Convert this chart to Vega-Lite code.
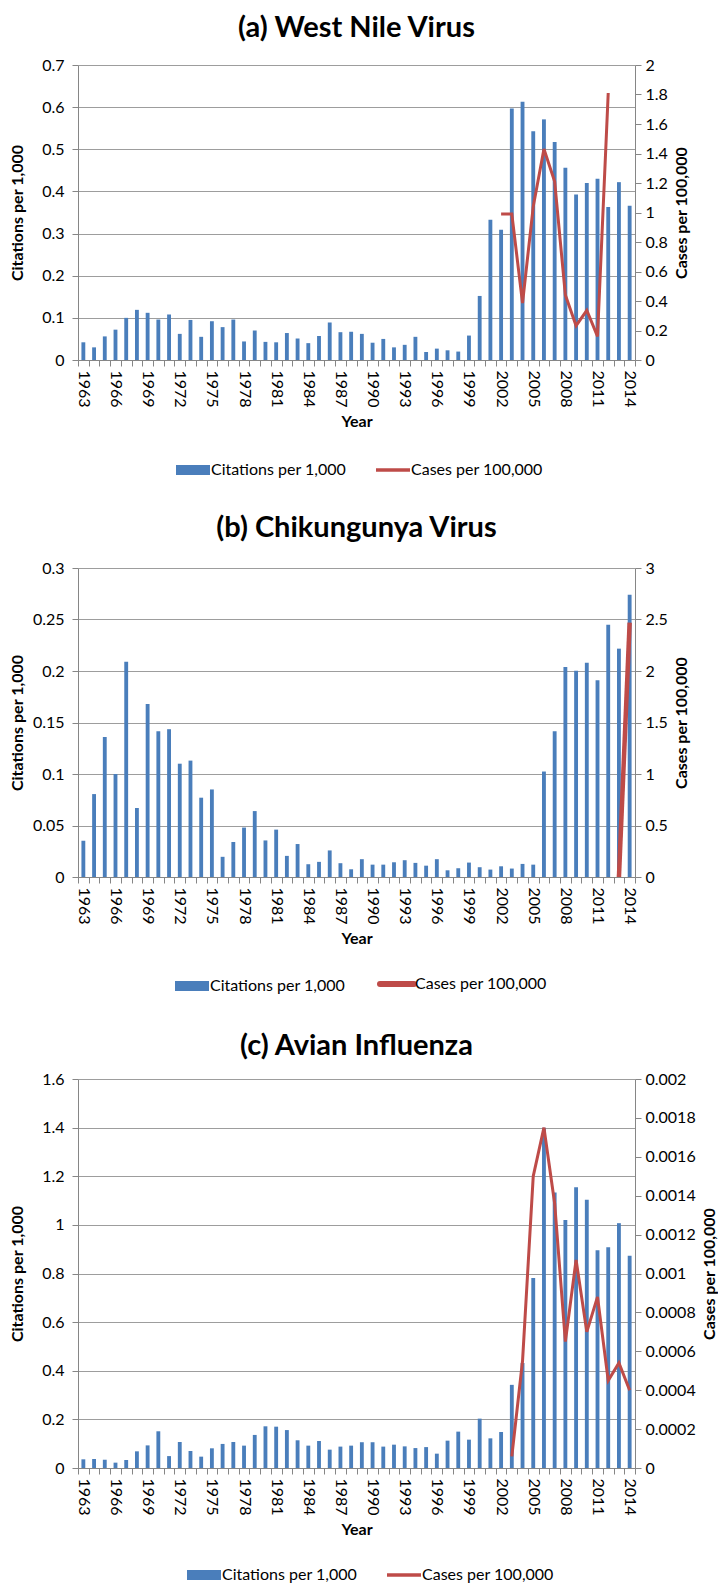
{
  "$schema": "https://vega.github.io/schema/vega-lite/v6.json",
  "padding": {"left": 9, "top": 14, "right": 0, "bottom": 0},
  "background": "white",
  "config": {
    "font": "Lato",
    "view": {"stroke": null},
    "axis": {"labelFont": "Lato", "labelFontSize": 16, "labelColor": "#000", "titleFont": "Lato", "titleFontSize": 16, "titleFontWeight": "bold", "titleColor": "#000", "domainColor": "#868686", "tickColor": "#868686", "gridColor": "#9d9d9d", "tickSize": 6},
    "title": {"font": "Lato", "fontSize": 29, "fontWeight": "bold", "color": "#000"},
    "legend": {"labelFont": "Lato", "labelFontSize": 16, "labelColor": "#000"}
  },
  "spacing": 36,
  "resolve": {"scale": {"color": "independent", "x": "independent"}, "legend": {"color": "independent"}},
  "vconcat": [
    {
      "title": {"text": "(a) West Nile Virus", "offset": 14},
      "width": 557, "height": 295,
      "data": {"values": [
        {"year":1963,"citations":0.042,"cases":null},{"year":1964,"citations":0.030,"cases":null},{"year":1965,"citations":0.056,"cases":null},{"year":1966,"citations":0.072,"cases":null},{"year":1967,"citations":0.100,"cases":null},{"year":1968,"citations":0.119,"cases":null},{"year":1969,"citations":0.112,"cases":null},{"year":1970,"citations":0.096,"cases":null},{"year":1971,"citations":0.108,"cases":null},{"year":1972,"citations":0.062,"cases":null},{"year":1973,"citations":0.095,"cases":null},{"year":1974,"citations":0.055,"cases":null},{"year":1975,"citations":0.092,"cases":null},{"year":1976,"citations":0.078,"cases":null},{"year":1977,"citations":0.096,"cases":null},{"year":1978,"citations":0.044,"cases":null},{"year":1979,"citations":0.070,"cases":null},{"year":1980,"citations":0.043,"cases":null},{"year":1981,"citations":0.042,"cases":null},{"year":1982,"citations":0.064,"cases":null},{"year":1983,"citations":0.051,"cases":null},{"year":1984,"citations":0.040,"cases":null},{"year":1985,"citations":0.057,"cases":null},{"year":1986,"citations":0.089,"cases":null},{"year":1987,"citations":0.066,"cases":null},{"year":1988,"citations":0.067,"cases":null},{"year":1989,"citations":0.062,"cases":null},{"year":1990,"citations":0.041,"cases":null},{"year":1991,"citations":0.050,"cases":null},{"year":1992,"citations":0.030,"cases":null},{"year":1993,"citations":0.036,"cases":null},{"year":1994,"citations":0.055,"cases":null},{"year":1995,"citations":0.019,"cases":null},{"year":1996,"citations":0.027,"cases":null},{"year":1997,"citations":0.023,"cases":null},{"year":1998,"citations":0.020,"cases":null},{"year":1999,"citations":0.058,"cases":null},{"year":2000,"citations":0.152,"cases":null},{"year":2001,"citations":0.333,"cases":null},{"year":2002,"citations":0.309,"cases":0.99},{"year":2003,"citations":0.597,"cases":0.99},{"year":2004,"citations":0.613,"cases":0.386},{"year":2005,"citations":0.543,"cases":1.04},{"year":2006,"citations":0.571,"cases":1.43},{"year":2007,"citations":0.517,"cases":1.21},{"year":2008,"citations":0.456,"cases":0.44},{"year":2009,"citations":0.393,"cases":0.233},{"year":2010,"citations":0.420,"cases":0.337},{"year":2011,"citations":0.430,"cases":0.16},{"year":2012,"citations":0.363,"cases":1.81},{"year":2013,"citations":0.422,"cases":null},{"year":2014,"citations":0.366,"cases":null}
      ]},
      "encoding": {"x": {"field": "year", "type": "ordinal", "scale": {"paddingInner": 0, "paddingOuter": 0}, "axis": {"title": "Year", "labelExpr": "(datum.value - 1963) % 3 == 0 ? datum.label : ''", "labelAngle": 90, "tickBand": "extent", "labelOverlap": false, "labelPadding": 4, "titlePadding": 6, "grid": false}}},
      "layer": [
        {"mark": {"type": "bar", "width": {"band": 0.36}},
         "encoding": {
           "y": {"field": "citations", "type": "quantitative", "scale": {"domain": [0, 0.7], "nice": false}, "axis": {"title": "Citations per 1,000", "values": [0,0.1,0.2,0.3,0.4,0.5,0.6,0.7], "format": "~g", "grid": true, "minExtent": 49, "maxExtent": 49, "labelPadding": 8, "titlePadding": 4}},
           "color": {"datum": "Citations per 1,000", "scale": {"domain": ["Citations per 1,000", "Cases per 100,000"], "range": ["#4a7ebb", "#be4b48"]},
             "legend": {"orient": "none", "legendX": 107, "legendY": 397, "direction": "horizontal", "title": null, "symbolSize": 1156, "labelOffset": 10, "columnPadding": 22,
               "encode": {"symbols": {"update": {
                 "shape": {"signal": "datum.value === 'Cases per 100,000' ? 'stroke' : 'M-1,-0.3H1V0.3H-1Z'"},
                 "fill": {"signal": "datum.value === 'Cases per 100,000' ? 'transparent' : '#4a7ebb'"},
                 "stroke": {"signal": "datum.value === 'Cases per 100,000' ? '#be4b48' : 'transparent'"},
                 "strokeWidth": {"signal": "datum.value === 'Cases per 100,000' ? 3.5 : 0"},
                 "opacity": {"value": 1}
               }}}}}
         }},
        {"mark": {"type": "line", "strokeWidth": 3},
         "encoding": {
           "y": {"field": "cases", "type": "quantitative", "scale": {"domain": [0, 2], "nice": false}, "axis": {"title": "Cases per 100,000", "orient": "right", "values": [0,0.2,0.4,0.6,0.8,1,1.2,1.4,1.6,1.8,2], "format": "~g", "grid": false, "titleAngle": 270, "titleBaseline": "top", "labelPadding": 4, "titlePadding": 6}},
           "color": {"datum": "Cases per 100,000"}
         }}
      ],
      "resolve": {"scale": {"y": "independent"}}
    },
    {
      "title": {"text": "(b) Chikungunya Virus", "offset": 17},
      "width": 557, "height": 309,
      "data": {"values": [
        {"year":1963,"citations":0.0352,"cases":null},{"year":1964,"citations":0.0805,"cases":null},{"year":1965,"citations":0.136,"cases":null},{"year":1966,"citations":0.100,"cases":null},{"year":1967,"citations":0.209,"cases":null},{"year":1968,"citations":0.067,"cases":null},{"year":1969,"citations":0.168,"cases":null},{"year":1970,"citations":0.1415,"cases":null},{"year":1971,"citations":0.1435,"cases":null},{"year":1972,"citations":0.110,"cases":null},{"year":1973,"citations":0.113,"cases":null},{"year":1974,"citations":0.077,"cases":null},{"year":1975,"citations":0.085,"cases":null},{"year":1976,"citations":0.0196,"cases":null},{"year":1977,"citations":0.034,"cases":null},{"year":1978,"citations":0.048,"cases":null},{"year":1979,"citations":0.064,"cases":null},{"year":1980,"citations":0.0355,"cases":null},{"year":1981,"citations":0.046,"cases":null},{"year":1982,"citations":0.0205,"cases":null},{"year":1983,"citations":0.032,"cases":null},{"year":1984,"citations":0.0124,"cases":null},{"year":1985,"citations":0.0147,"cases":null},{"year":1986,"citations":0.0258,"cases":null},{"year":1987,"citations":0.0134,"cases":null},{"year":1988,"citations":0.0075,"cases":null},{"year":1989,"citations":0.0173,"cases":null},{"year":1990,"citations":0.012,"cases":null},{"year":1991,"citations":0.012,"cases":null},{"year":1992,"citations":0.0143,"cases":null},{"year":1993,"citations":0.0163,"cases":null},{"year":1994,"citations":0.0137,"cases":null},{"year":1995,"citations":0.011,"cases":null},{"year":1996,"citations":0.0173,"cases":null},{"year":1997,"citations":0.0065,"cases":null},{"year":1998,"citations":0.0085,"cases":null},{"year":1999,"citations":0.014,"cases":null},{"year":2000,"citations":0.0095,"cases":null},{"year":2001,"citations":0.0072,"cases":null},{"year":2002,"citations":0.0104,"cases":null},{"year":2003,"citations":0.0082,"cases":null},{"year":2004,"citations":0.0127,"cases":null},{"year":2005,"citations":0.012,"cases":null},{"year":2006,"citations":0.1024,"cases":null},{"year":2007,"citations":0.1415,"cases":null},{"year":2008,"citations":0.2038,"cases":null},{"year":2009,"citations":0.2002,"cases":null},{"year":2010,"citations":0.208,"cases":null},{"year":2011,"citations":0.191,"cases":null},{"year":2012,"citations":0.245,"cases":null},{"year":2013,"citations":0.2217,"cases":0},{"year":2014,"citations":0.274,"cases":2.47}
      ]},
      "encoding": {"x": {"field": "year", "type": "ordinal", "scale": {"paddingInner": 0, "paddingOuter": 0}, "axis": {"title": "Year", "labelExpr": "(datum.value - 1963) % 3 == 0 ? datum.label : ''", "labelAngle": 90, "tickBand": "extent", "labelOverlap": false, "labelPadding": 4, "titlePadding": 6, "grid": false}}},
      "layer": [
        {"mark": {"type": "bar", "width": {"band": 0.36}},
         "encoding": {
           "y": {"field": "citations", "type": "quantitative", "scale": {"domain": [0, 0.3], "nice": false}, "axis": {"title": "Citations per 1,000", "values": [0,0.05,0.1,0.15,0.2,0.25,0.3], "format": "~g", "grid": true, "minExtent": 49, "maxExtent": 49, "labelPadding": 8, "titlePadding": 4}},
           "color": {"datum": "Citations per 1,000", "scale": {"domain": ["Citations per 1,000", "Cases per 100,000"], "range": ["#4a7ebb", "#be4b48"]},
             "legend": {"orient": "none", "legendX": 106, "legendY": 408, "direction": "horizontal", "title": null, "symbolSize": 1156, "labelOffset": 10, "columnPadding": 22,
               "encode": {"symbols": {"update": {
                 "shape": {"signal": "datum.value === 'Cases per 100,000' ? 'stroke' : 'M-1,-0.3H1V0.3H-1Z'"},
                 "fill": {"signal": "datum.value === 'Cases per 100,000' ? 'transparent' : '#4a7ebb'"},
                 "stroke": {"signal": "datum.value === 'Cases per 100,000' ? '#be4b48' : 'transparent'"},
                 "strokeWidth": {"signal": "datum.value === 'Cases per 100,000' ? 6 : 0"},
                 "strokeCap": {"value": "round"},
                 "opacity": {"value": 1}
               }}}}}
         }},
        {"mark": {"type": "line", "strokeWidth": 4.5},
         "encoding": {
           "y": {"field": "cases", "type": "quantitative", "scale": {"domain": [0, 3], "nice": false}, "axis": {"title": "Cases per 100,000", "orient": "right", "values": [0,0.5,1,1.5,2,2.5,3], "format": "~g", "grid": false, "titleAngle": 270, "titleBaseline": "top", "labelPadding": 4, "titlePadding": 6}},
           "color": {"datum": "Cases per 100,000"}
         }}
      ],
      "resolve": {"scale": {"y": "independent"}}
    },
    {
      "title": {"text": "(c) Avian Influenza", "offset": 10},
      "width": 557, "height": 389,
      "data": {"values": [
        {"year":1963,"citations":0.0357,"cases":null},{"year":1964,"citations":0.037,"cases":null},{"year":1965,"citations":0.034,"cases":null},{"year":1966,"citations":0.022,"cases":null},{"year":1967,"citations":0.033,"cases":null},{"year":1968,"citations":0.0686,"cases":null},{"year":1969,"citations":0.093,"cases":null},{"year":1970,"citations":0.151,"cases":null},{"year":1971,"citations":0.049,"cases":null},{"year":1972,"citations":0.107,"cases":null},{"year":1973,"citations":0.070,"cases":null},{"year":1974,"citations":0.0467,"cases":null},{"year":1975,"citations":0.081,"cases":null},{"year":1976,"citations":0.099,"cases":null},{"year":1977,"citations":0.107,"cases":null},{"year":1978,"citations":0.092,"cases":null},{"year":1979,"citations":0.136,"cases":null},{"year":1980,"citations":0.1715,"cases":null},{"year":1981,"citations":0.170,"cases":null},{"year":1982,"citations":0.156,"cases":null},{"year":1983,"citations":0.114,"cases":null},{"year":1984,"citations":0.092,"cases":null},{"year":1985,"citations":0.111,"cases":null},{"year":1986,"citations":0.0755,"cases":null},{"year":1987,"citations":0.088,"cases":null},{"year":1988,"citations":0.092,"cases":null},{"year":1989,"citations":0.106,"cases":null},{"year":1990,"citations":0.106,"cases":null},{"year":1991,"citations":0.088,"cases":null},{"year":1992,"citations":0.096,"cases":null},{"year":1993,"citations":0.089,"cases":null},{"year":1994,"citations":0.082,"cases":null},{"year":1995,"citations":0.086,"cases":null},{"year":1996,"citations":0.059,"cases":null},{"year":1997,"citations":0.1125,"cases":null},{"year":1998,"citations":0.1496,"cases":null},{"year":1999,"citations":0.1166,"cases":null},{"year":2000,"citations":0.203,"cases":null},{"year":2001,"citations":0.122,"cases":null},{"year":2002,"citations":0.148,"cases":null},{"year":2003,"citations":0.342,"cases":0.00006},{"year":2004,"citations":0.432,"cases":0.00055},{"year":2005,"citations":0.782,"cases":0.0015},{"year":2006,"citations":1.40,"cases":0.00175},{"year":2007,"citations":1.133,"cases":0.00136},{"year":2008,"citations":1.020,"cases":0.00065},{"year":2009,"citations":1.155,"cases":0.00107},{"year":2010,"citations":1.103,"cases":0.0007},{"year":2011,"citations":0.896,"cases":0.00088},{"year":2012,"citations":0.908,"cases":0.00045},{"year":2013,"citations":1.007,"cases":0.00054},{"year":2014,"citations":0.873,"cases":0.0004}
      ]},
      "encoding": {"x": {"field": "year", "type": "ordinal", "scale": {"paddingInner": 0, "paddingOuter": 0}, "axis": {"title": "Year", "labelExpr": "(datum.value - 1963) % 3 == 0 ? datum.label : ''", "labelAngle": 90, "tickBand": "extent", "labelOverlap": false, "labelPadding": 4, "titlePadding": 6, "grid": false}}},
      "layer": [
        {"mark": {"type": "bar", "width": {"band": 0.36}},
         "encoding": {
           "y": {"field": "citations", "type": "quantitative", "scale": {"domain": [0, 1.6], "nice": false}, "axis": {"title": "Citations per 1,000", "values": [0,0.2,0.4,0.6,0.8,1,1.2,1.4,1.6], "format": "~g", "grid": true, "minExtent": 49, "maxExtent": 49, "labelPadding": 8, "titlePadding": 4}},
           "color": {"datum": "Citations per 1,000", "scale": {"domain": ["Citations per 1,000", "Cases per 100,000"], "range": ["#4a7ebb", "#be4b48"]},
             "legend": {"orient": "none", "legendX": 118, "legendY": 488, "direction": "horizontal", "title": null, "symbolSize": 1156, "labelOffset": 10, "columnPadding": 22,
               "encode": {"symbols": {"update": {
                 "shape": {"signal": "datum.value === 'Cases per 100,000' ? 'stroke' : 'M-1,-0.3H1V0.3H-1Z'"},
                 "fill": {"signal": "datum.value === 'Cases per 100,000' ? 'transparent' : '#4a7ebb'"},
                 "stroke": {"signal": "datum.value === 'Cases per 100,000' ? '#be4b48' : 'transparent'"},
                 "strokeWidth": {"signal": "datum.value === 'Cases per 100,000' ? 3.5 : 0"},
                 "opacity": {"value": 1}
               }}}}}
         }},
        {"mark": {"type": "line", "strokeWidth": 3},
         "encoding": {
           "y": {"field": "cases", "type": "quantitative", "scale": {"domain": [0, 0.002], "nice": false}, "axis": {"title": "Cases per 100,000", "orient": "right", "values": [0,0.0002,0.0004,0.0006,0.0008,0.001,0.0012,0.0014,0.0016,0.0018,0.002], "format": "~g", "grid": false, "titleAngle": 270, "titleBaseline": "top", "labelPadding": 4, "titlePadding": 6}},
           "color": {"datum": "Cases per 100,000"}
         }}
      ],
      "resolve": {"scale": {"y": "independent"}}
    }
  ]
}
